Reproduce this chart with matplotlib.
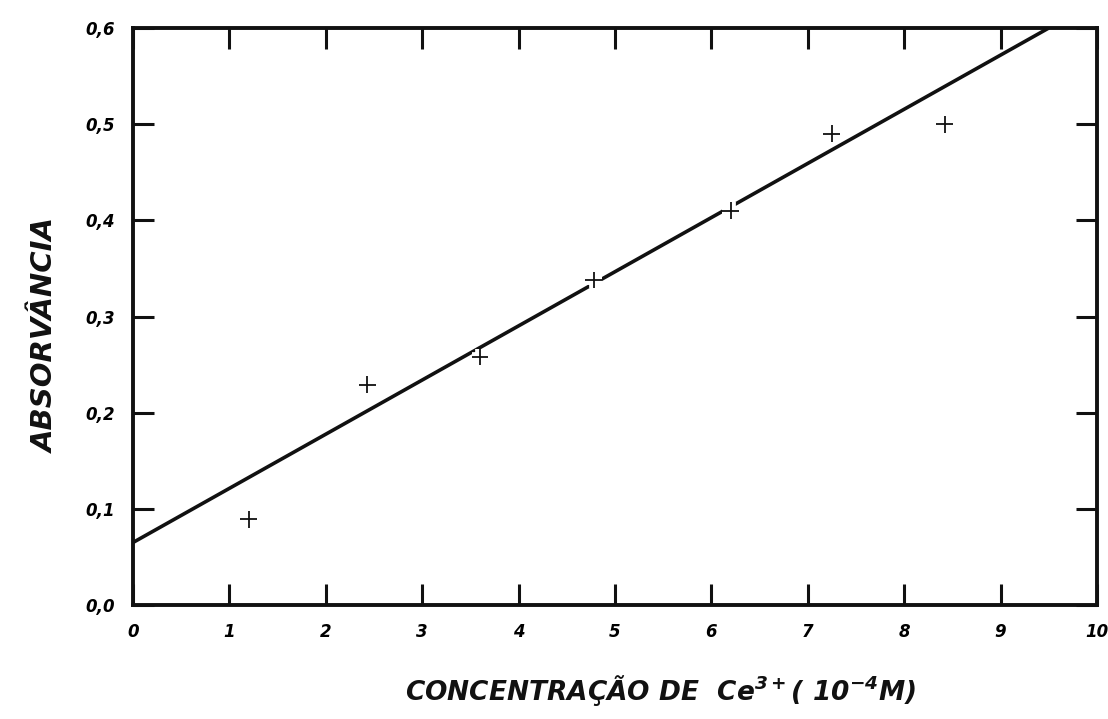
import matplotlib
matplotlib.use("Agg")
import matplotlib.pyplot as plt
import matplotlib.patheffects as pe

# measured points: Ce3+ concentration (1e-4 M) vs absorbance
conc = [1.2, 2.43, 3.6, 4.78, 6.2, 7.25, 8.42]
absorb = [0.089, 0.229, 0.258, 0.338, 0.41, 0.49, 0.50]
# fitted straight line, drawn between its two ends
fit_x = [0.0, 9.5]
fit_y = [0.065, 0.6]

xticks = list(range(0, 11))
xlabels = ["0", "1", "2", "3", "4", "5", "6", "7", "8", "9", "10"]
yticks = [0.0, 0.1, 0.2, 0.3, 0.4, 0.5, 0.6]
ylabels = ["0,0", "0,1", "0,2", "0,3", "0,4", "0,5", "0,6"]

INK = "#111111"
plt.rcParams.update({"font.family": "DejaVu Sans", "mathtext.fontset": "custom",
                     "mathtext.rm": "DejaVu Sans:italic:bold",
                     "mathtext.it": "DejaVu Sans:italic:bold",
                     "mathtext.bf": "DejaVu Sans:italic:bold",
                     "mathtext.default": "rm"})

fig = plt.figure(figsize=(11.08, 7.19), dpi=100)
ax = fig.add_axes([0.120, 0.1585, 0.870, 0.8025])

ax.plot(fit_x, fit_y, color=INK, lw=2.6, solid_capstyle="butt", zorder=2)
ax.plot(conc, absorb, ls="none", marker="+", ms=12, mew=1.3, color=INK, zorder=3,
        path_effects=[pe.Stroke(linewidth=7, foreground="white"), pe.Normal()])

ax.set_xlim(0, 10)
ax.set_ylim(0, 0.6)
ax.set_xticks(xticks)
ax.set_xticklabels(xlabels)
ax.set_yticks(yticks)
ax.set_yticklabels(ylabels)
for s in ax.spines.values():
    s.set_linewidth(2.8)
    s.set_color(INK)
ax.tick_params(axis="both", direction="in", length=15, width=2.2, color=INK,
               top=True, right=True, labelsize=12, pad=13)
for lab in ax.get_xticklabels() + ax.get_yticklabels():
    lab.set_fontweight("bold")
    lab.set_fontstyle("italic")

ax.set_ylabel("ABSORVÂNCIA", fontsize=21, fontweight="bold", style="italic", color=INK)
ax.yaxis.set_label_coords(-0.076, 0.468)
fig.text(0.596, 0.04, r"CONCENTRAÇÃO DE  Ce$^{3+}$( 10$^{-4}$M)", fontsize=19,
         fontweight="bold", style="italic", color=INK, ha="center", va="center")

fig.savefig("out.png", facecolor="white")
